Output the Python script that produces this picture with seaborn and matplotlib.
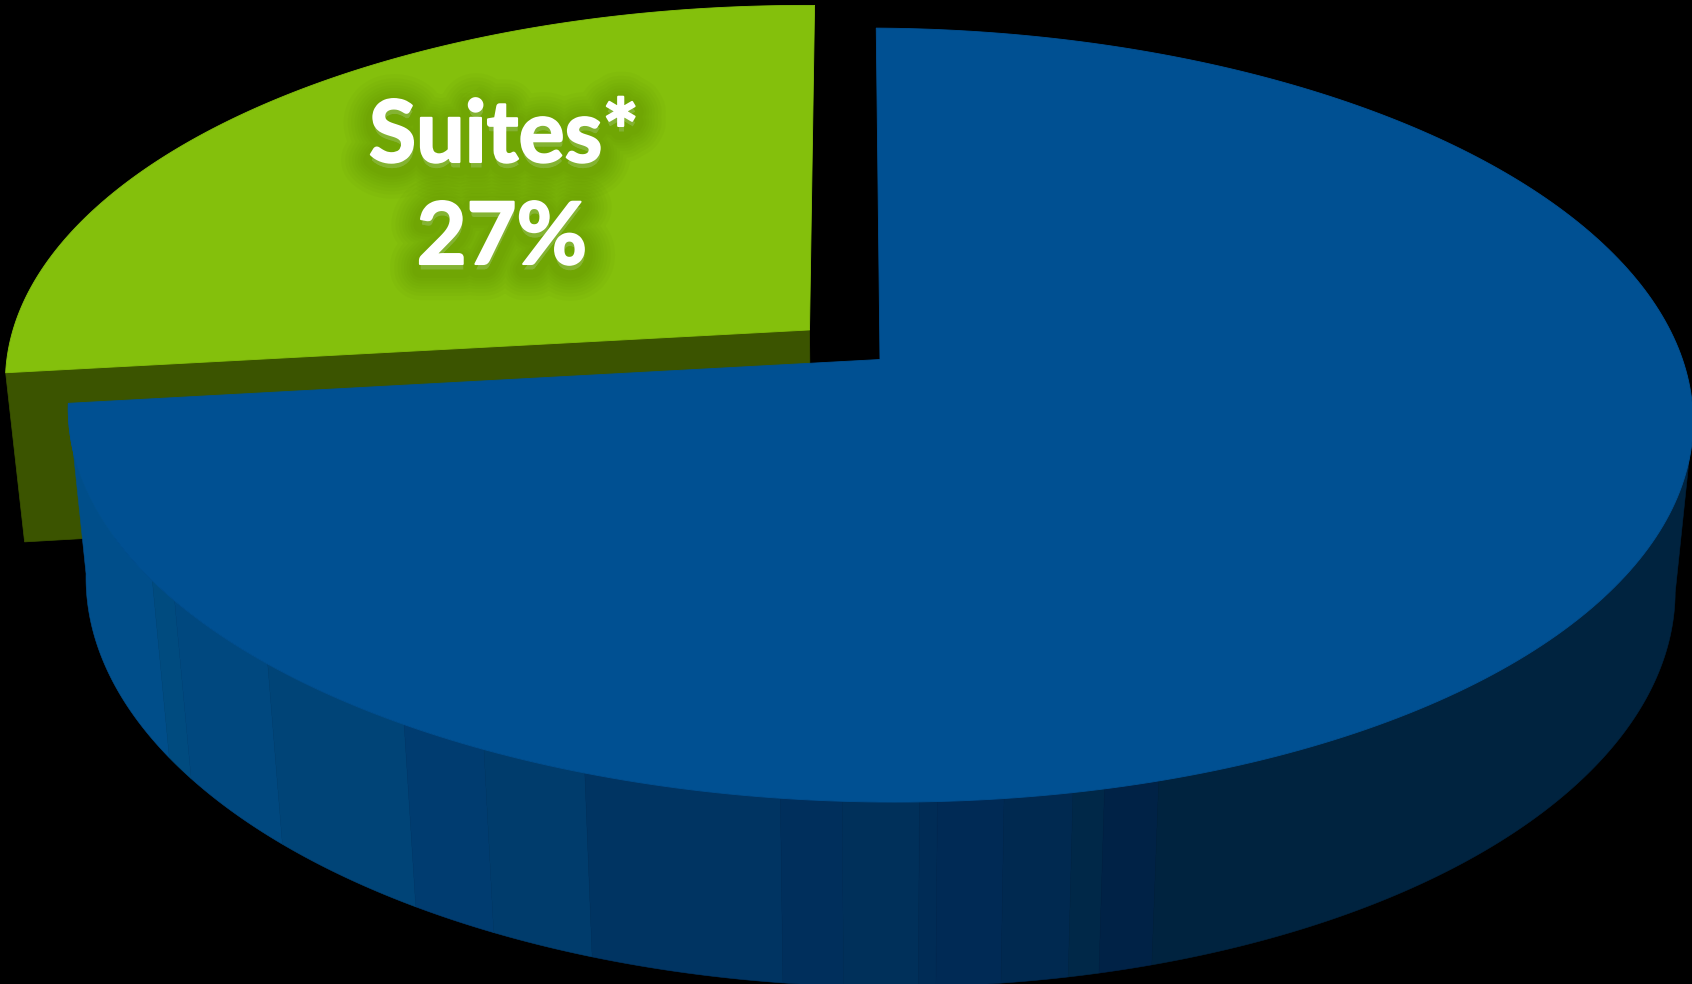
import numpy as np
import matplotlib
matplotlib.use("Agg")
import matplotlib.pyplot as plt
import matplotlib.patheffects as pe
from matplotlib.path import Path
from matplotlib.transforms import Transform
import seaborn as sns

# Data
labels = ["Suites*", ""]
shares = [27, 73]
explode = [0.1176, 0]
slice_colors = ["#84C00C", "#005092"]
side_color = "#3B5400"

# shading bands round the blue wall (screen position of each band change, -1 to 1)
band_edges = [-0.909, -0.881, -0.766, -0.598, -0.499, -0.373, -0.131, -0.053,
              0.042, 0.065, 0.148, 0.233, 0.272, 0.340]
band_colors = ["#004E8A", "#004B7F", "#00487F", "#004477", "#003C70", "#003C6C",
               "#003462", "#002F5C", "#00305A", "#002C56", "#002A55", "#002950",
               "#002848", "#002246", "#00233F"]

# 3D look of the disk, in pixels
X0, Y0 = 880, 359.5
RX, RY = 804, 379
DEPTH = 172
TILT = 0.1436
SHRINK = 0.022
SKEW = -4.3
ROLL = 4.5


def project(u, v, z=0.0):
    w = 1 + TILT * v + SHRINK * z
    return X0 + (RX * u + SKEW * v) / w, Y0 + (DEPTH * z - RY * v + ROLL * u) / w


class DiskProjection(Transform):
    input_dims = 2
    output_dims = 2

    def transform_non_affine(self, values):
        x, y = project(values[:, 0], values[:, 1])
        return np.column_stack([x, y])

    def transform_path_non_affine(self, path):
        pts = [curve(np.linspace(0, 1, 40)) for curve, code in path.iter_bezier()]
        return Path(self.transform_non_affine(np.vstack(pts)))


sns.set_style("white")
fig = plt.figure(figsize=(16.92, 9.84), dpi=100, facecolor="black")
ax = fig.add_axes([0, 0, 1, 1])

wedges, _ = ax.pie(shares, explode=explode, colors=slice_colors, startangle=90,
                   wedgeprops={"linewidth": 0.6})
ax.set_aspect("auto")
ax.set_xlim(0, 1692)
ax.set_ylim(984, 0)
ax.axis("off")

to_screen = DiskProjection() + ax.transData
for wedge, color, order in zip(wedges, slice_colors, [2, 4]):
    wedge.set_transform(to_screen)
    wedge.set_edgecolor(color)
    wedge.set_zorder(order)

# angles of the slices, from the shares
split = 90 + 360 * shares[0] / sum(shares)
mid = np.radians((90 + split) / 2)
off_u = explode[0] * np.cos(mid)
off_v = explode[0] * np.sin(mid)

# cut side of the green slice
edge_u = np.array([0, np.cos(np.radians(split))]) + off_u
edge_v = np.array([0, np.sin(np.radians(split))]) + off_v
top_x, top_y = project(edge_u, edge_v, 0)
low_x, low_y = project(edge_u, edge_v, 1)
ax.fill(np.r_[top_x, low_x[::-1]], np.r_[top_y, low_y[::-1]],
        color=side_color, lw=0.5, zorder=1)

# outer wall of the blue slice, one polygon per shading band
theta = np.radians(np.arange(split, 381, 0.1))
# the wall stops where the rim turns back on the right
theta = theta[:np.argmax(project(np.cos(theta), np.sin(theta))[0]) + 1]
wall_u = np.cos(theta)
wall_v = np.sin(theta)
screen_pos = wall_u / (1 + TILT * wall_v)
bands = np.searchsorted(band_edges, screen_pos)
palette = sns.color_palette(band_colors)
for b, color in enumerate(palette):
    idx = np.where(bands == b)[0]
    if len(idx) == 0:
        continue
    idx = np.r_[idx, min(idx[-1] + 1, len(theta) - 1)]
    top_x, top_y = project(wall_u[idx], wall_v[idx], 0)
    low_x, low_y = project(wall_u[idx], wall_v[idx], 1)
    ax.fill(np.r_[top_x, low_x[::-1]], np.r_[top_y, low_y[::-1]],
            color=color, lw=0.4, zorder=3)

# label with a soft dark glow, a thin white stroke makes the letters heavier
glow = []
for width in [44, 38, 33, 28, 24, 20, 16, 12]:
    glow.append(pe.withStroke(linewidth=width, foreground="#3A5A00", alpha=0.03, offset=(0.5, -4)))
glow.append(pe.withStroke(linewidth=1.5, foreground="white"))
glow.append(pe.Normal())

text_style = dict(color="white", family="Lato", fontweight="bold", fontsize=62,
                  ha="center", va="baseline", zorder=5, path_effects=glow)
ax.text(504, 162, labels[0], **text_style)
ax.text(502, 264, f"{shares[0]}%", **text_style)

fig.savefig("out.png", dpi=100, facecolor="black")
